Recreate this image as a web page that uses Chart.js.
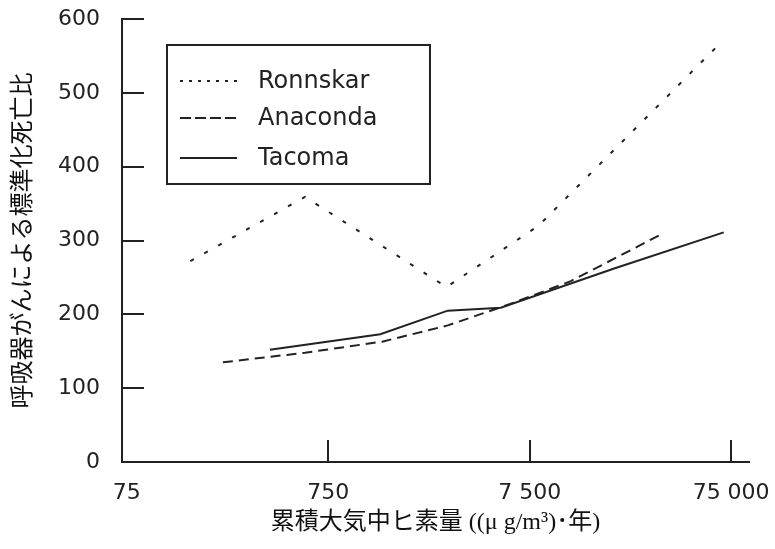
<!DOCTYPE html>
<html>
<head>
<meta charset="utf-8">
<script src="https://cdn.jsdelivr.net/npm/chart.js"></script>
<style>
  body { margin: 0; background: #fff; }
  #wrap { width: 775px; height: 549px; }
</style>
</head>
<body>
<div id="wrap"><canvas id="myChart"></canvas></div>
<script>
// values
const xTicks = [75, 750, 7500, 75000];
const yTicks = [0, 100, 200, 300, 400, 500, 600];

const seriesNames = ['Ronnskar', 'Anaconda', 'Tacoma'];

const ronnskarX = [155, 575, 2900, 8300, 65000];
const ronnskarY = [272, 359, 237, 320, 565];

const anacondaX = [225, 575, 1390, 2940, 6000, 12000, 33000];
const anacondaY = [135, 148, 163, 185, 214, 245, 307];

const tacomaX = [385, 1360, 2940, 5390, 19700, 68900];
const tacomaY = [152, 173, 205, 209, 262, 311];

const ink = '#222';
const sansFont = '"DejaVu Sans", sans-serif';
const jpFont = '"Liberation Serif", "Noto Sans CJK JP", serif';

function toPoints(xs, ys) {
  return xs.map((x, i) => ({ x: x, y: ys[i] }));
}

function spaced(v) {
  return String(v).replace(/\B(?=(\d{3})+(?!\d))/g, ' ');
}

// dash pattern in the legend box is a bit tighter than on the lines
const legendDash = [[3, 6], [11, 4], []];

const innerTicks = {
  id: 'innerTicks',
  afterDraw(chart) {
    const ctx = chart.ctx;
    const xs = chart.scales.x, ys = chart.scales.y;
    const area = chart.chartArea;
    ctx.save();
    ctx.strokeStyle = ink;
    ctx.lineWidth = 2;
    ctx.beginPath();
    yTicks.forEach(v => {
      if (v === 0) return;
      const py = Math.round(ys.getPixelForValue(v));
      ctx.moveTo(area.left, py);
      ctx.lineTo(area.left + 22, py);
    });
    xTicks.forEach((v, i) => {
      if (i === 0) return;
      const px = Math.round(xs.getPixelForValue(v));
      ctx.moveTo(px, area.bottom);
      ctx.lineTo(px, area.bottom - 22);
    });
    ctx.stroke();

    // legend box inside the plot
    const bx = 167, by = 45, bw = 263, bh = 139;
    ctx.fillStyle = '#fff';
    ctx.fillRect(bx, by, bw, bh);
    ctx.strokeRect(bx, by, bw, bh);
    const rows = [81, 118, 158];
    ctx.font = '24px ' + sansFont;
    ctx.textBaseline = 'middle';
    chart.data.datasets.forEach((ds, i) => {
      ctx.beginPath();
      ctx.setLineDash(legendDash[i]);
      ctx.lineWidth = 2;
      ctx.moveTo(180, rows[i]);
      ctx.lineTo(237, rows[i]);
      ctx.stroke();
      ctx.setLineDash([]);
      ctx.fillStyle = ink;
      ctx.fillText(ds.label, 258, rows[i] + 1);
    });
    ctx.restore();
  }
};

const ctx = document.getElementById('myChart').getContext('2d');
const myChart = new Chart(ctx, {
  type: 'line',
  data: {
    datasets: [
      {
        label: seriesNames[0],
        data: toPoints(ronnskarX, ronnskarY),
        borderColor: ink,
        borderWidth: 2,
        borderDash: [4, 12],
        pointRadius: 0,
        tension: 0
      },
      {
        label: seriesNames[1],
        data: toPoints(anacondaX, anacondaY),
        borderColor: ink,
        borderWidth: 2,
        borderDash: [10, 6],
        pointRadius: 0,
        tension: 0
      },
      {
        label: seriesNames[2],
        data: toPoints(tacomaX, tacomaY),
        borderColor: ink,
        borderWidth: 2,
        pointRadius: 0,
        tension: 0
      }
    ]
  },
  options: {
    responsive: true,
    maintainAspectRatio: false,
    animation: false,
    layout: { padding: { left: 0, right: 26, top: 19, bottom: 0 } },
    plugins: {
      legend: { display: false },
      tooltip: { enabled: false }
    },
    scales: {
      x: {
        type: 'logarithmic',
        min: 71,
        max: 92000,
        grid: { display: false },
        border: { display: true, color: ink, width: 2 },
        afterBuildTicks: s => { s.ticks = xTicks.map(v => ({ value: v })); },
        afterFit: s => { s.height = 87; s.paddingLeft = 0; s.paddingRight = 0; },
        ticks: {
          autoSkip: false,
          maxRotation: 0,
          padding: 10,
          color: ink,
          font: { family: sansFont, size: 22 },
          callback: v => spaced(v)
        },
        title: {
          display: true,
          text: '累積大気中ヒ素量 ((μ g/m³)･年)',
          color: '#111',
          font: { family: jpFont, size: 24 },
          padding: { top: 0, bottom: 12 }
        }
      },
      y: {
        min: 0,
        max: 600,
        grid: { display: false },
        border: { display: true, color: ink, width: 2 },
        afterBuildTicks: s => { s.ticks = yTicks.map(v => ({ value: v })); },
        afterFit: s => { s.width = 122; s.paddingTop = 0; s.paddingBottom = 0; },
        ticks: {
          padding: 14,
          color: ink,
          font: { family: sansFont, size: 22 }
        },
        title: {
          display: true,
          text: '呼吸器がんによる標準化死亡比',
          color: '#111',
          font: { family: jpFont, size: 24 },
          padding: { top: 9, bottom: 0 }
        }
      }
    }
  },
  plugins: [innerTicks]
});
</script>
</body>
</html>
